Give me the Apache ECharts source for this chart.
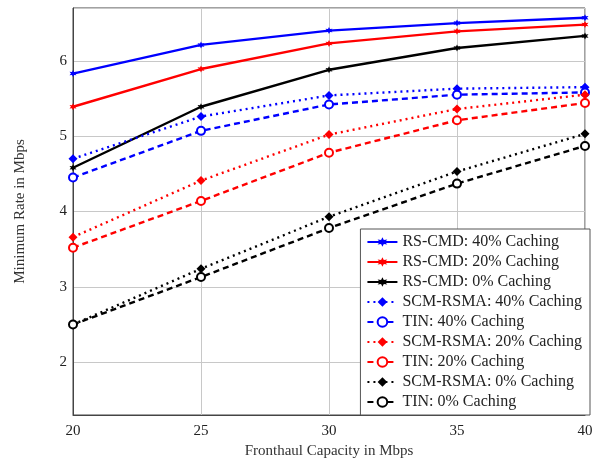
<!DOCTYPE html>
<html>
<head>
<meta charset="utf-8">
<script src="https://cdn.jsdelivr.net/npm/echarts@6/dist/echarts.min.js"></script>
<style>
  html, body { margin: 0; padding: 0; background: #fff; }
  #chart { width: 600px; height: 459px; }
</style>
</head>
<body>
<div id="chart"></div>
<script>
//  Data

var capacity = [20, 25, 30, 35, 40];

var rsCmd40 = [5.83, 6.21, 6.40, 6.50, 6.57];
var rsCmd20 = [5.39, 5.89, 6.23, 6.39, 6.48];
var rsCmd0 = [4.58, 5.39, 5.88, 6.17, 6.33];
var scm40 = [4.70, 5.26, 5.54, 5.63, 5.65];
var tin40 = [4.45, 5.07, 5.42, 5.55, 5.58];
var scm20 = [3.66, 4.41, 5.02, 5.36, 5.55];
var tin20 = [3.52, 4.14, 4.78, 5.21, 5.44];
var scm0 = [2.50, 3.24, 3.93, 4.53, 5.03];
var tin0 = [2.50, 3.13, 3.78, 4.37, 4.87];

//  Chart

var FONT = 'Liberation Serif';
var star = 'path://M0,-10 L2.5,-4.3 L8.7,-5 L5,0 L8.7,5 L2.5,4.3 L0,10 L-2.5,4.3 L-8.7,5 L-5,0 L-8.7,-5 L-2.5,-4.3 Z';

function pairs(vals) {
  return capacity.map(function(c, i) { return [c, vals[i]]; });
}

function mk(name, vals, color, type, symbol, size) {
  return {
    name: name,
    type: 'line',
    data: pairs(vals),
    symbol: symbol,
    symbolSize: size,
    showAllSymbol: true,
    lineStyle: { color: color, width: 2.4, type: type },
    itemStyle: { color: color, borderColor: color, borderWidth: symbol === 'emptyCircle' ? 2.2 : 0 },
    emphasis: { disabled: true },
    z: 3
  };
}

var myChart = echarts.init(document.getElementById('chart'), null, {renderer: 'canvas'});

var option = {
  animation: false,
  textStyle: { fontFamily: FONT },
  grid: {
    left: 73, right: 15, top: 8, bottom: 44,
    outerBoundsMode: 'none',
    containLabel: false,
    show: true, borderColor: '#444', borderWidth: 1
  },
  legend: {
    right: 10,
    bottom: 44,
    orient: 'vertical',
    backgroundColor: '#fff',
    borderColor: '#555',
    borderWidth: 1,
    padding: [5, 8, 5, 6],
    itemGap: 4,
    itemWidth: 30,
    itemHeight: 12,
    textStyle: { fontFamily: FONT, fontSize: 16, color: '#222' },
    data: ['RS-CMD: 40% Caching', 'RS-CMD: 20% Caching', 'RS-CMD: 0% Caching',
      'SCM-RSMA: 40% Caching', 'TIN: 40% Caching', 'SCM-RSMA: 20% Caching',
      'TIN: 20% Caching', 'SCM-RSMA: 0% Caching', 'TIN: 0% Caching']
  },
  xAxis: {
    type: 'value',
    min: 20, max: 40, interval: 5,
    name: 'Fronthaul Capacity in Mbps',
    nameLocation: 'middle',
    nameGap: 27,
    nameTextStyle: { fontFamily: FONT, fontSize: 15, color: '#333' },
    axisLine: { lineStyle: { color: '#444' } },
    axisTick: { show: false },
    axisLabel: { fontFamily: FONT, fontSize: 15, color: '#222', margin: 9 },
    splitLine: { lineStyle: { color: '#c8c8c8' } }
  },
  yAxis: {
    type: 'value',
    min: 1.3, max: 6.7,
    splitNumber: 5,
    name: 'Minimum Rate in Mbps',
    nameLocation: 'middle',
    nameGap: 45,
    nameTextStyle: { fontFamily: FONT, fontSize: 15, color: '#333' },
    axisLine: { show: true, lineStyle: { color: '#444' } },
    axisTick: { show: false },
    axisLabel: { fontFamily: FONT, fontSize: 15, color: '#222', margin: 6, showMinLabel: false, showMaxLabel: false },
    splitLine: { lineStyle: { color: '#c8c8c8' } }
  },
  series: [
    mk('RS-CMD: 40% Caching', rsCmd40, '#0000ff', 'solid', star, 7),
    mk('RS-CMD: 20% Caching', rsCmd20, '#ff0000', 'solid', star, 7),
    mk('RS-CMD: 0% Caching', rsCmd0, '#000000', 'solid', star, 7),
    mk('SCM-RSMA: 40% Caching', scm40, '#0000ff', [2, 4], 'diamond', 9),
    mk('TIN: 40% Caching', tin40, '#0000ff', [6, 4], 'emptyCircle', 8),
    mk('SCM-RSMA: 20% Caching', scm20, '#ff0000', [2, 4], 'diamond', 9),
    mk('TIN: 20% Caching', tin20, '#ff0000', [6, 4], 'emptyCircle', 8),
    mk('SCM-RSMA: 0% Caching', scm0, '#000000', [2, 4], 'diamond', 9),
    mk('TIN: 0% Caching', tin0, '#000000', [6, 4], 'emptyCircle', 8)
  ]
};
myChart.setOption(option);
</script>
</body>
</html>
